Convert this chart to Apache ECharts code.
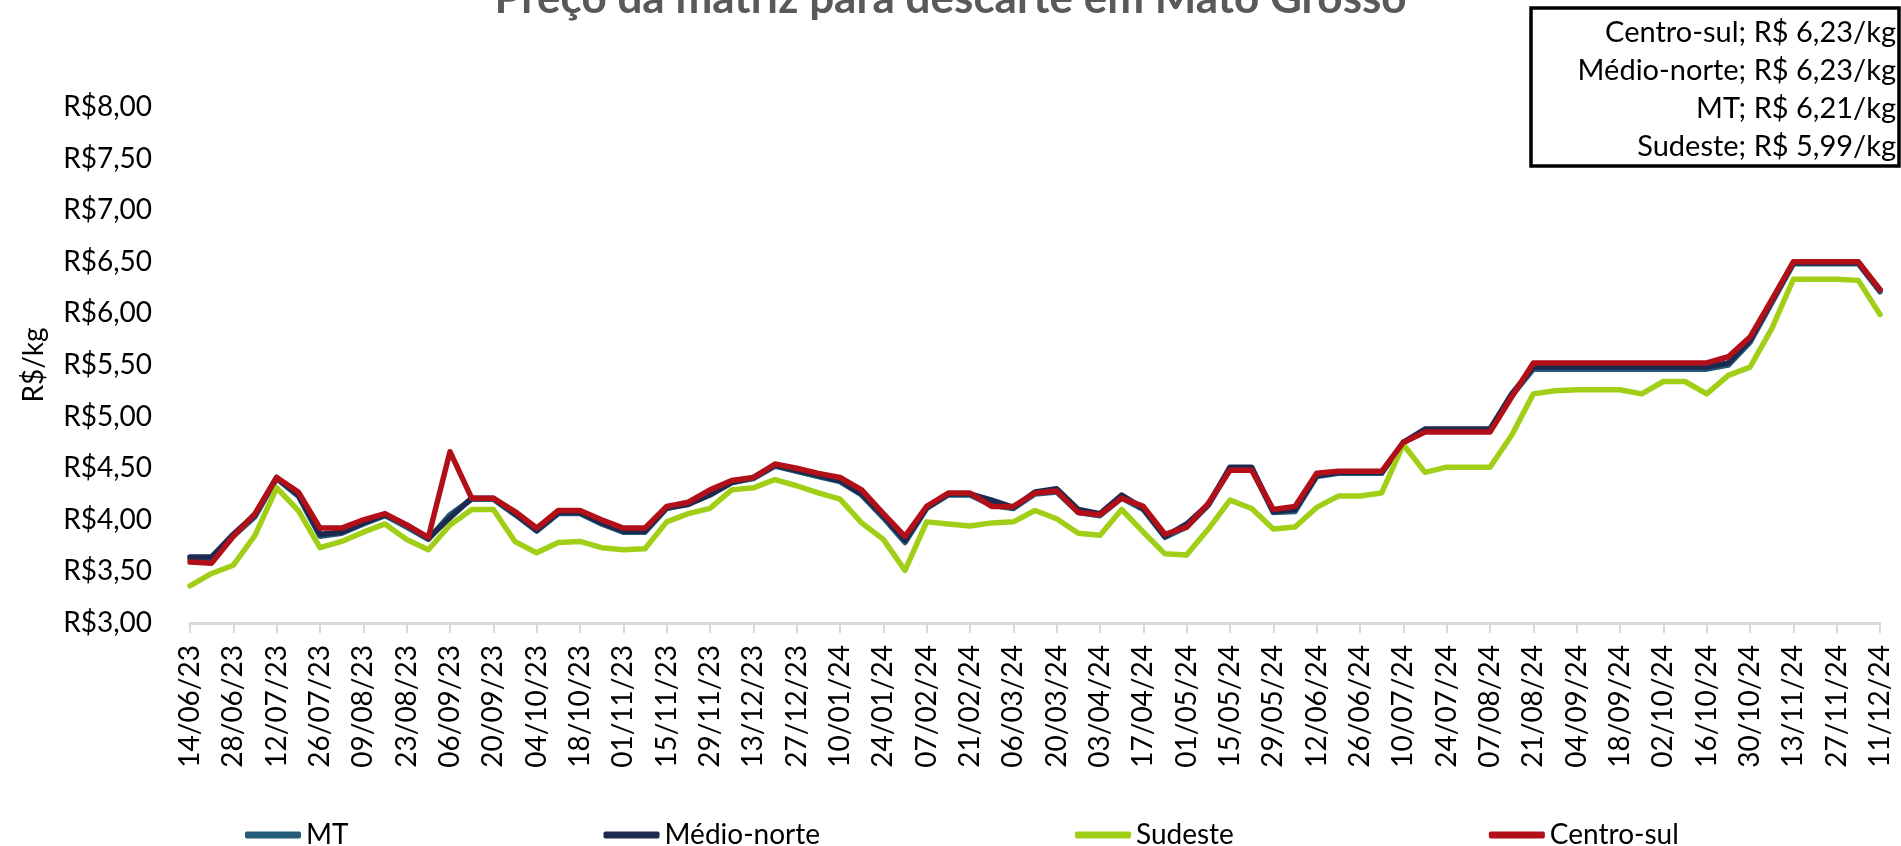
<!DOCTYPE html>
<html>
<head>
<meta charset="utf-8">
<title>Preço da matriz para descarte em Mato Grosso</title>
<script src="https://cdn.jsdelivr.net/npm/echarts@6/dist/echarts.min.js"></script>
<style>
	html, body {margin: 0; padding: 0; background: #ffffff;}
	#grafica {width: 1901px; height: 846px;}
</style>
</head>
<body>
<div id="grafica"></div>
<script>
// semanas (quartas-feiras)
var fechas= [
	'14/06/23', '21/06/23', '28/06/23', '05/07/23', '12/07/23', '19/07/23', '26/07/23', '02/08/23', '09/08/23', '16/08/23',
	'23/08/23', '30/08/23', '06/09/23', '13/09/23', '20/09/23', '27/09/23', '04/10/23', '11/10/23', '18/10/23', '25/10/23',
	'01/11/23', '08/11/23', '15/11/23', '22/11/23', '29/11/23', '06/12/23', '13/12/23', '20/12/23', '27/12/23', '03/01/24',
	'10/01/24', '17/01/24', '24/01/24', '31/01/24', '07/02/24', '14/02/24', '21/02/24', '28/02/24', '06/03/24', '13/03/24',
	'20/03/24', '27/03/24', '03/04/24', '10/04/24', '17/04/24', '24/04/24', '01/05/24', '08/05/24', '15/05/24', '22/05/24',
	'29/05/24', '05/06/24', '12/06/24', '19/06/24', '26/06/24', '03/07/24', '10/07/24', '17/07/24', '24/07/24', '31/07/24',
	'07/08/24', '14/08/24', '21/08/24', '28/08/24', '04/09/24', '11/09/24', '18/09/24', '25/09/24', '02/10/24', '09/10/24',
	'16/10/24', '23/10/24', '30/10/24', '06/11/24', '13/11/24', '20/11/24', '27/11/24', '04/12/24', '11/12/24'
];
var mt= [
	3.62, 3.60, 3.84, 4.03, 4.40, 4.23, 3.84, 3.87, 3.96, 4.04,
	3.93, 3.81, 4.05, 4.20, 4.20, 4.05, 3.89, 4.06, 4.06, 3.96,
	3.88, 3.88, 4.11, 4.15, 4.25, 4.36, 4.40, 4.52, 4.47, 4.42,
	4.37, 4.24, 4.02, 3.78, 4.11, 4.24, 4.24, 4.14, 4.11, 4.25,
	4.27, 4.07, 4.04, 4.21, 4.10, 3.83, 3.93, 4.14, 4.49, 4.49,
	4.07, 4.08, 4.42, 4.45, 4.45, 4.45, 4.75, 4.86, 4.86, 4.86,
	4.86, 5.20, 5.46, 5.46, 5.46, 5.46, 5.46, 5.46, 5.46, 5.46,
	5.46, 5.50, 5.72, 6.10, 6.48, 6.48, 6.48, 6.48, 6.21
];
var medioNorte= [
	3.64, 3.64, 3.86, 4.05, 4.41, 4.24, 3.86, 3.88, 3.97, 4.05,
	3.95, 3.82, 4.02, 4.21, 4.21, 4.06, 3.90, 4.07, 4.07, 3.97,
	3.89, 3.89, 4.12, 4.15, 4.24, 4.36, 4.41, 4.53, 4.48, 4.43,
	4.38, 4.25, 4.04, 3.80, 4.12, 4.25, 4.25, 4.19, 4.12, 4.27,
	4.30, 4.10, 4.06, 4.24, 4.11, 3.84, 3.96, 4.15, 4.51, 4.51,
	4.08, 4.10, 4.43, 4.46, 4.46, 4.46, 4.75, 4.88, 4.88, 4.88,
	4.88, 5.22, 5.48, 5.48, 5.48, 5.48, 5.48, 5.48, 5.48, 5.48,
	5.48, 5.52, 5.74, 6.12, 6.49, 6.49, 6.49, 6.49, 6.23
];
var sudeste= [
	3.36, 3.48, 3.56, 3.85, 4.31, 4.09, 3.73, 3.79, 3.88, 3.96,
	3.81, 3.71, 3.95, 4.10, 4.10, 3.79, 3.68, 3.78, 3.79, 3.73,
	3.71, 3.72, 3.98, 4.06, 4.11, 4.29, 4.31, 4.39, 4.33, 4.26,
	4.20, 3.97, 3.81, 3.51, 3.98, 3.96, 3.94, 3.97, 3.98, 4.09,
	4.01, 3.87, 3.85, 4.10, 3.88, 3.67, 3.66, 3.91, 4.19, 4.11,
	3.91, 3.93, 4.12, 4.23, 4.23, 4.26, 4.73, 4.46, 4.51, 4.51,
	4.51, 4.82, 5.22, 5.25, 5.26, 5.26, 5.26, 5.22, 5.34, 5.34,
	5.22, 5.40, 5.48, 5.85, 6.33, 6.33, 6.33, 6.32, 5.99
];
var centroSul= [
	3.59, 3.58, 3.84, 4.06, 4.41, 4.27, 3.92, 3.92, 4.00, 4.06,
	3.95, 3.83, 4.66, 4.21, 4.21, 4.08, 3.92, 4.09, 4.09, 4.00,
	3.92, 3.92, 4.13, 4.17, 4.29, 4.38, 4.41, 4.54, 4.50, 4.45,
	4.41, 4.29, 4.06, 3.84, 4.13, 4.26, 4.26, 4.13, 4.13, 4.26,
	4.28, 4.07, 4.05, 4.21, 4.13, 3.86, 3.93, 4.16, 4.48, 4.48,
	4.10, 4.13, 4.45, 4.47, 4.47, 4.47, 4.75, 4.85, 4.85, 4.85,
	4.85, 5.19, 5.52, 5.52, 5.52, 5.52, 5.52, 5.52, 5.52, 5.52,
	5.52, 5.58, 5.77, 6.13, 6.50, 6.50, 6.50, 6.50, 6.23
];
// ultimo precio de cada region (cuadro superior derecho)
var ultimos= [
	'Centro-sul; R$ 6,23/kg',
	'Médio-norte; R$ 6,23/kg',
	'MT; R$ 6,21/kg',
	'Sudeste; R$ 5,99/kg'
];

var fuente= 'Lato';
var colores= {mt: '#235b78', medioNorte: '#1b2a4e', sudeste: '#a1cf17', centroSul: '#b30f18'};

function linea(nombre, datos, color) {
	return {
		name: nombre,
		type: 'line',
		data: datos,
		symbol: 'none',
		smooth: false,
		lineStyle: {color: color, width: 5.5, cap: 'round', join: 'round'},
		itemStyle: {color: color}
	};
}

function cuadro() {
	var items= [{
		type: 'rect',
		shape: {x: 1531, y: 8, width: 368, height: 158},
		style: {fill: '#ffffff', stroke: '#000000', lineWidth: 3.5}
	}];
	for(var i= 0; i< ultimos.length; i++)
		items.push({
			type: 'text',
			x: 1896,
			y: 33+ i* 38,
			style: {text: ultimos[i], fill: '#000000', font: '29px '+ fuente, align: 'right', verticalAlign: 'middle'}
		});
	return items;
}

var grafica= echarts.init(document.getElementById('grafica'), null, {renderer: 'canvas'});
grafica.setOption({
	animation: false,
	backgroundColor: '#ffffff',
	title: {
		text: 'Preço da matriz para descarte em Mato Grosso',
		left: 'center',
		top: -28,
		textStyle: {fontFamily: fuente, fontSize: 44, fontWeight: 'bold', color: '#595959'}
	},
	grid: {left: 190, right: 21, top: 107, bottom: 223},
	legend: {
		left: 240,
		top: 816,
		itemGap: 255,
		itemWidth: 56,
		itemHeight: 7,
		icon: 'roundRect',
		textStyle: {fontFamily: fuente, fontSize: 28, color: '#000000'},
		data: ['MT', 'Médio-norte', 'Sudeste', 'Centro-sul']
	},
	xAxis: {
		type: 'category',
		data: fechas,
		boundaryGap: false,
		axisLine: {lineStyle: {color: '#d9d9d9', width: 3}},
		axisTick: {show: true, interval: 1, length: 10, lineStyle: {color: '#d9d9d9', width: 2}},
		axisLabel: {interval: 1, rotate: 90, margin: 22, fontFamily: fuente, fontSize: 28, color: '#000000'},
		splitLine: {show: false}
	},
	yAxis: {
		type: 'value',
		min: 3,
		max: 8,
		interval: 0.5,
		name: 'R$/kg',
		nameLocation: 'middle',
		nameGap: 142,
		nameRotate: 90,
		nameTextStyle: {fontFamily: fuente, fontSize: 28, color: '#000000'},
		axisLine: {show: false},
		axisTick: {show: false},
		splitLine: {show: false},
		axisLabel: {
			margin: 38,
			fontFamily: fuente,
			fontSize: 28,
			color: '#000000',
			formatter: function(v) {
				return 'R$'+ v.toFixed(2).replace('.', ',');
			}
		}
	},
	graphic: cuadro(),
	series: [
		linea('MT', mt, colores.mt),
		linea('Médio-norte', medioNorte, colores.medioNorte),
		linea('Sudeste', sudeste, colores.sudeste),
		linea('Centro-sul', centroSul, colores.centroSul)
	]
});
</script>
</body>
</html>
